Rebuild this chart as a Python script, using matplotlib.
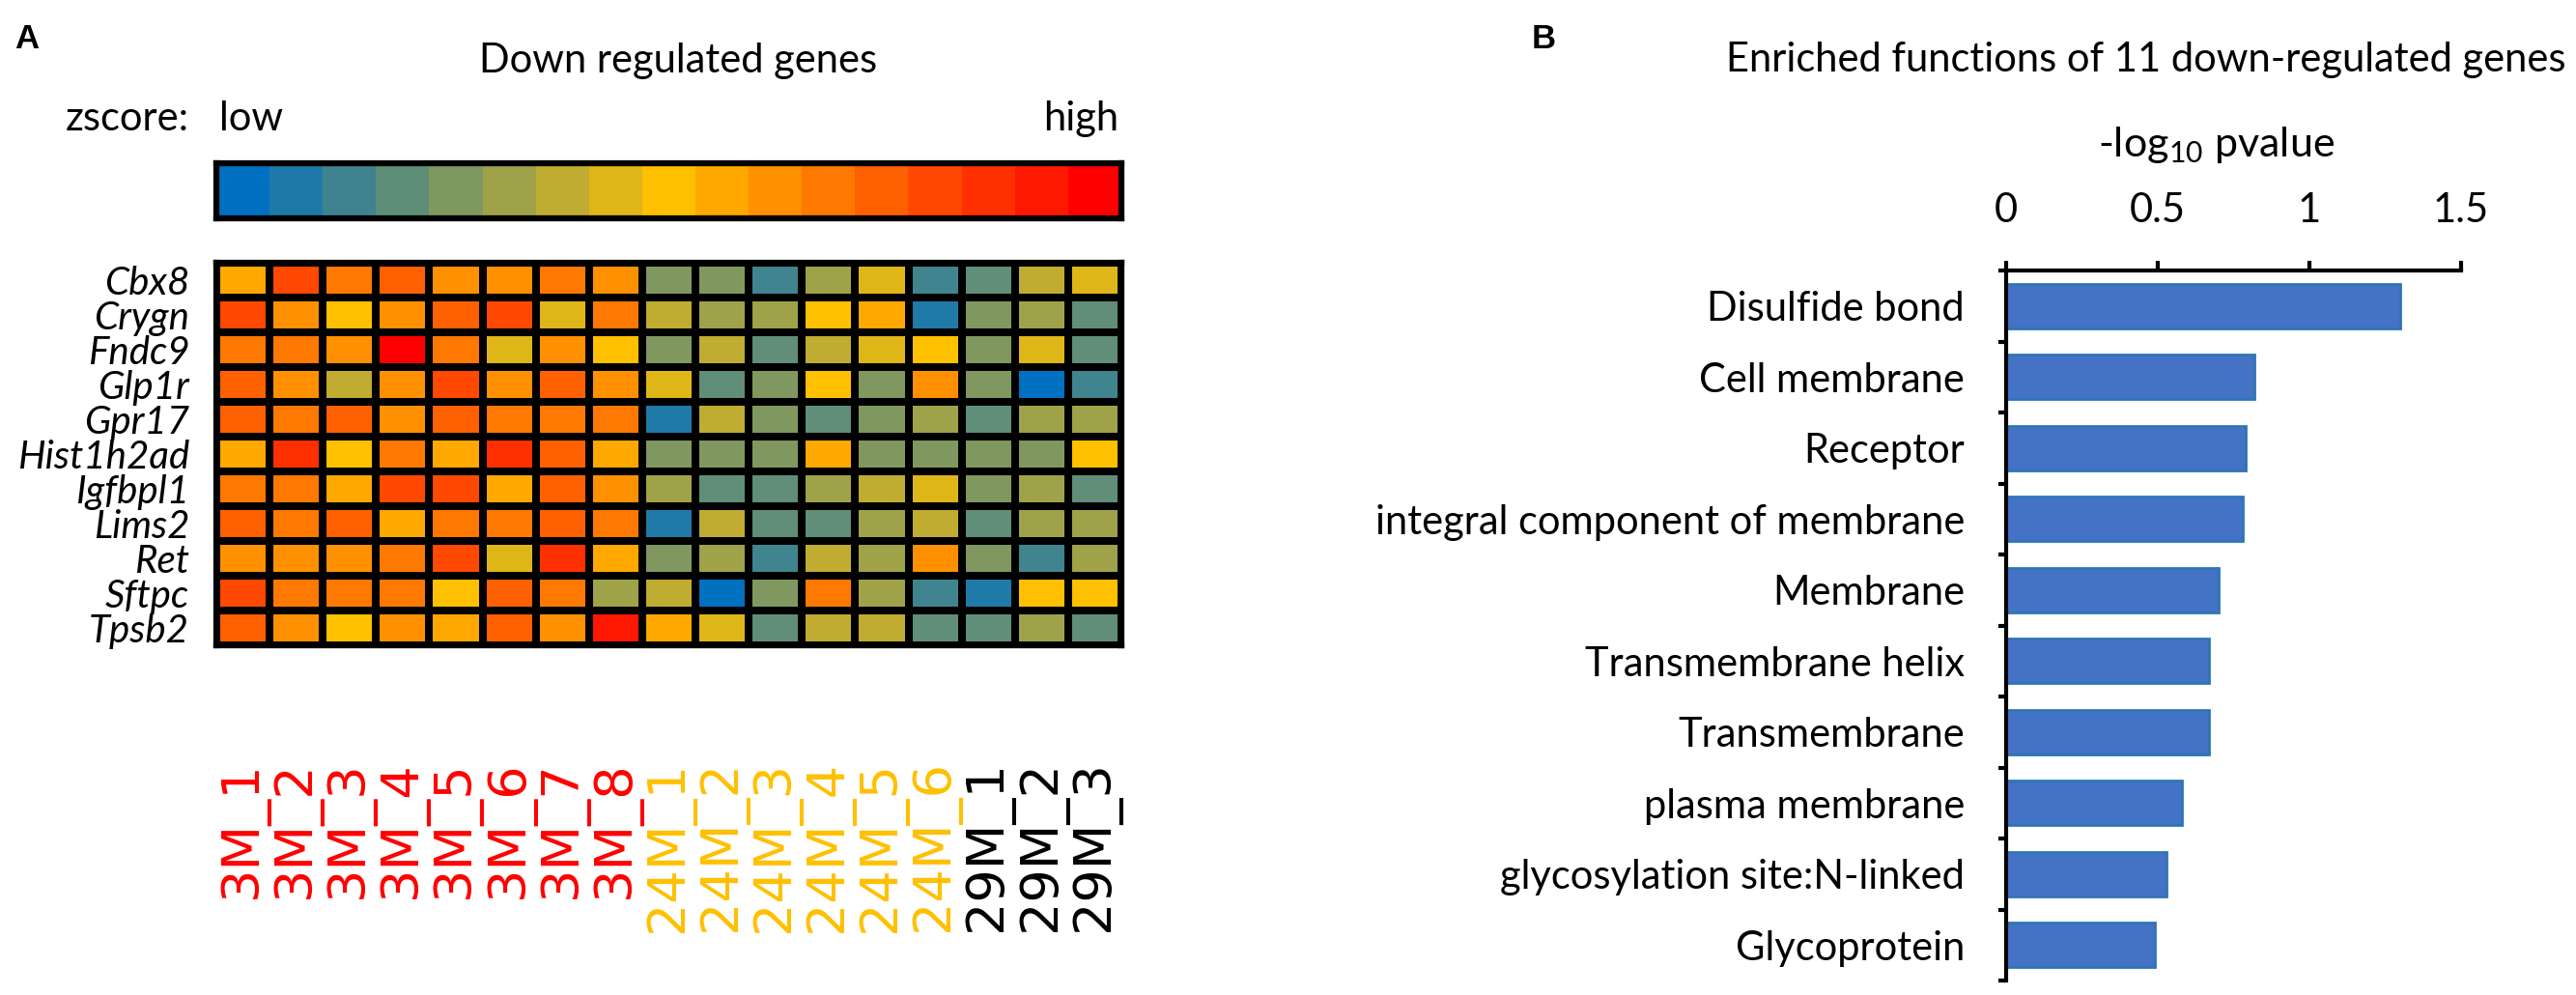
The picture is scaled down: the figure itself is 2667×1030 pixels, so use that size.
import numpy as np
import matplotlib
matplotlib.use('Agg')
import matplotlib.pyplot as plt
from matplotlib.colors import LinearSegmentedColormap

plt.rcParams['font.family'] = ['Lato', 'DejaVu Sans']
plt.rcParams['mathtext.fontset'] = 'custom'
plt.rcParams['mathtext.rm'] = 'Lato'
plt.rcParams['mathtext.it'] = 'Lato:italic'

# dados do painel A (nivel da escala de cor, 0 = low ... 16 = high)
genes = ['Cbx8', 'Crygn', 'Fndc9', 'Glp1r', 'Gpr17', 'Hist1h2ad', 'Igfbpl1',
         'Lims2', 'Ret', 'Sftpc', 'Tpsb2']
amostras = ['3M_1', '3M_2', '3M_3', '3M_4', '3M_5', '3M_6', '3M_7', '3M_8',
            '24M_1', '24M_2', '24M_3', '24M_4', '24M_5', '24M_6',
            '29M_1', '29M_2', '29M_3']
cbx8 = [9, 13, 11, 12, 10, 10, 11, 10, 4, 4, 2, 5, 7, 2, 3, 6, 7]
crygn = [13, 10, 8, 10, 12, 13, 7, 11, 6, 5, 5, 8, 9, 1, 4, 5, 3]
fndc9 = [11, 11, 10, 16, 11, 7, 10, 8, 4, 6, 3, 6, 7, 8, 4, 7, 3]
glp1r = [12, 10, 6, 10, 13, 10, 12, 10, 7, 3, 4, 8, 4, 10, 4, 0, 2]
gpr17 = [12, 11, 12, 10, 12, 11, 11, 11, 1, 6, 4, 3, 4, 5, 3, 5, 5]
hist1h2ad = [9, 14, 8, 11, 9, 14, 12, 9, 4, 4, 4, 9, 4, 4, 4, 4, 8]
igfbpl1 = [11, 11, 9, 13, 13, 9, 12, 10, 5, 3, 3, 5, 6, 7, 4, 5, 3]
lims2 = [12, 11, 12, 9, 11, 11, 12, 11, 1, 6, 3, 3, 5, 6, 3, 5, 5]
ret = [10, 10, 10, 11, 13, 7, 14, 9, 4, 5, 2, 6, 5, 10, 4, 2, 5]
sftpc = [13, 11, 11, 11, 8, 12, 11, 5, 6, 0, 4, 11, 5, 2, 1, 8, 8]
tpsb2 = [12, 10, 8, 10, 9, 12, 10, 15, 9, 7, 3, 6, 6, 3, 3, 5, 3]
cor_grupo = {'3M': '#FF0000', '24M': '#FFC000', '29M': '#000000'}

# dados do painel B
funcoes = ['Disulfide bond', 'Cell membrane', 'Receptor',
           'integral component of membrane', 'Membrane',
           'Transmembrane helix', 'Transmembrane', 'plasma membrane',
           'glycosylation site:N-linked', 'Glycoprotein']
logp = [1.30, 0.82, 0.79, 0.78, 0.70, 0.67, 0.67, 0.58, 0.53, 0.49]

W, H = 2667, 1030
fig = plt.figure(figsize=(W / 100, H / 100), dpi=100)

def px(x, y):
    # pixel (a partir do topo) -> fracao da figura
    return x / W, 1 - y / H

nivel = 17
cmap = LinearSegmentedColormap.from_list('zs', ['#0070C0', '#FFC000', '#FF0000'], N=nivel)

# barra de cor
axc = fig.add_axes([224 / W, 1 - 226 / H, 937 / W, 57 / H])
axc.imshow([list(range(nivel))], cmap=cmap, vmin=0, vmax=nivel - 1, aspect='auto')
axc.set_xticks([])
axc.set_yticks([])
for s in axc.spines.values():
    s.set_linewidth(4.5)

# heatmap
z = np.array([cbx8, crygn, fndc9, glp1r, gpr17, hist1h2ad, igfbpl1,
              lims2, ret, sftpc, tpsb2])
axh = fig.add_axes([224 / W, 1 - 668 / H, 937 / W, 396 / H])
axh.pcolormesh(z, cmap=cmap, vmin=0, vmax=nivel - 1, edgecolors='black', linewidth=4.5)
axh.set_xlim(0, len(amostras))
axh.set_ylim(len(genes), 0)
axh.set_yticks(np.arange(len(genes)) + 0.5)
axh.set_yticklabels(genes, fontsize=29, style='italic')
axh.set_xticks(np.arange(len(amostras)) + 0.5)
axh.set_xticklabels(amostras, rotation=90, fontsize=39, family='DejaVu Sans')
for t, a in zip(axh.get_xticklabels(), amostras):
    t.set_color(cor_grupo[a.split('_')[0]])
axh.tick_params(axis='both', length=0)
axh.tick_params(axis='y', pad=20)
axh.tick_params(axis='x', pad=86)
for s in axh.spines.values():
    s.set_linewidth(4.5)

fig.text(*px(28, 40), 'A', fontsize=25, fontweight='bold', family='Liberation Sans',
         ha='center', va='center')
fig.text(*px(702, 63), 'Down regulated genes', fontsize=30, ha='center', va='center')
fig.text(*px(68, 123), 'zscore:', fontsize=30, ha='left', va='center')
fig.text(*px(227, 123), 'low', fontsize=30, ha='left', va='center')
fig.text(*px(1158, 123), 'high', fontsize=30, ha='right', va='center')

# painel B - barras
axb = fig.add_axes([2077 / W, 1 - 1015 / H, 471 / W, 735 / H])
y = np.arange(len(funcoes))
axb.barh(y, logp, height=0.63, color='#4472C4', edgecolor='#2E75B6', linewidth=2)
axb.set_xlim(0, 1.5)
axb.set_ylim(len(funcoes) - 0.5, -0.5)
axb.xaxis.tick_top()
axb.set_xticks([0, 0.5, 1, 1.5])
axb.set_xticklabels(['0', '0.5', '1', '1.5'], fontsize=30)
axb.tick_params(axis='x', direction='out', length=7, width=3, pad=24)
axb.set_yticks(y)
axb.set_yticklabels(funcoes, fontsize=30)
axb.set_yticks(np.arange(len(funcoes) + 1) - 0.5, minor=True)
axb.tick_params(axis='y', which='major', length=0, pad=31)
axb.tick_params(axis='y', which='minor', direction='out', length=6, width=3)
for s in ['right', 'bottom']:
    axb.spines[s].set_visible(False)
for s in ['top', 'left']:
    axb.spines[s].set_linewidth(3)

fig.text(*px(1598, 40), 'B', fontsize=25, fontweight='bold', family='Liberation Sans',
         ha='center', va='center')
fig.text(*px(2222, 62), 'Enriched functions of 11 down-regulated genes', fontsize=30,
         ha='center', va='center')
fig.text(*px(2295, 150), r'-log$_{10}$ pvalue', fontsize=31, ha='center', va='center')

plt.savefig('out.png', dpi=100)
